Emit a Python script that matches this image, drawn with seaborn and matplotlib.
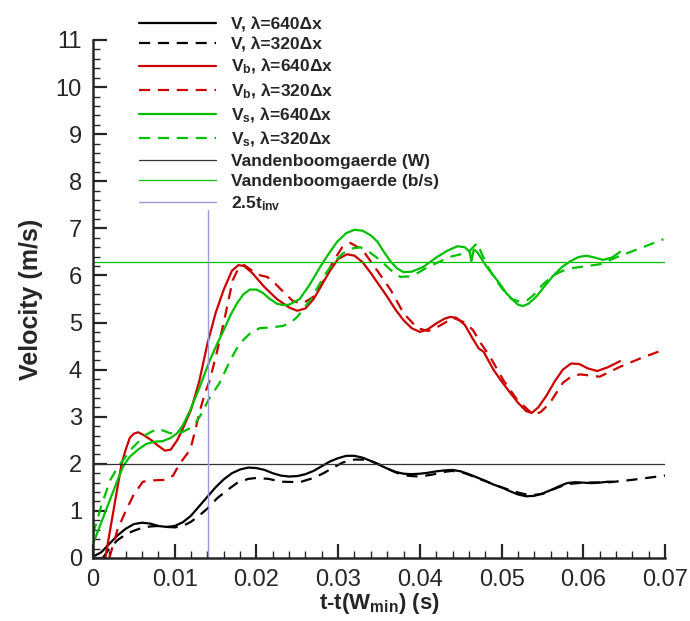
import numpy as np
import pandas as pd
import matplotlib
matplotlib.use("Agg")
import matplotlib.pyplot as plt
import seaborn as sns

# ---------------- data ----------------
t_v640 = [0, 0.001, 0.002, 0.003, 0.004, 0.005, 0.006, 0.007, 0.008, 0.009, 0.010, 0.011,
          0.012, 0.013, 0.014, 0.015, 0.016, 0.017, 0.018, 0.019, 0.020, 0.021, 0.022, 0.023,
          0.024, 0.025, 0.026, 0.027, 0.028, 0.029, 0.030, 0.031, 0.032, 0.033, 0.034, 0.035,
          0.036, 0.037, 0.038, 0.039, 0.040, 0.041, 0.042, 0.043, 0.044, 0.045, 0.046, 0.047,
          0.048, 0.049, 0.050, 0.051, 0.052, 0.053, 0.054, 0.055, 0.056, 0.057, 0.058, 0.059,
          0.060, 0.061, 0.062, 0.063, 0.0636]
v_v640 = [0.03, 0.12, 0.3, 0.48, 0.62, 0.72, 0.75, 0.73, 0.68, 0.66, 0.68, 0.76,
          0.9, 1.1, 1.3, 1.5, 1.67, 1.8, 1.88, 1.92, 1.91, 1.87, 1.8, 1.75,
          1.73, 1.74, 1.78, 1.85, 1.95, 2.05, 2.12, 2.17, 2.17, 2.13, 2.06, 1.98,
          1.9, 1.83, 1.79, 1.78, 1.79, 1.81, 1.84, 1.86, 1.87, 1.84, 1.78, 1.71,
          1.64, 1.56, 1.5, 1.42, 1.35, 1.31, 1.32, 1.37, 1.44, 1.52, 1.59, 1.61,
          1.6, 1.59, 1.6, 1.62, 1.62]

t_v320 = [0.0012, 0.002, 0.003, 0.004, 0.005, 0.006, 0.007, 0.008, 0.009, 0.010, 0.011, 0.012,
          0.013, 0.014, 0.0152, 0.0165, 0.0176, 0.019, 0.020, 0.0215, 0.023, 0.0253, 0.027,
          0.0282, 0.0295, 0.0306, 0.032, 0.033, 0.034, 0.035, 0.036, 0.037, 0.038, 0.039,
          0.040, 0.0415, 0.043, 0.044, 0.0455, 0.047, 0.0485, 0.050, 0.052, 0.0535, 0.055,
          0.0565, 0.058, 0.060, 0.0633, 0.066, 0.070]
v_v320 = [0.0, 0.2, 0.38, 0.5, 0.58, 0.64, 0.67, 0.68, 0.66, 0.65, 0.68, 0.77,
          0.9, 1.05, 1.27, 1.45, 1.59, 1.68, 1.7, 1.68, 1.62, 1.61, 1.7,
          1.8, 1.93, 2.03, 2.09, 2.09, 2.06, 1.99, 1.9, 1.82, 1.76, 1.74,
          1.73, 1.77, 1.83, 1.85, 1.8, 1.7, 1.6, 1.5, 1.39, 1.33, 1.36,
          1.47, 1.57, 1.6, 1.61, 1.66, 1.75]

t_vb640 = [0.0015, 0.002, 0.0025, 0.003, 0.0035, 0.004, 0.0045, 0.005, 0.0055, 0.006, 0.007,
           0.008, 0.0088, 0.0095, 0.0103, 0.011, 0.012, 0.013, 0.014, 0.015, 0.016, 0.017,
           0.0178, 0.0185, 0.0195, 0.021, 0.0225, 0.024, 0.025, 0.026, 0.027, 0.028, 0.029,
           0.030, 0.0311, 0.032, 0.033, 0.034, 0.035, 0.036, 0.037, 0.038, 0.039, 0.040,
           0.041, 0.042, 0.043, 0.0437, 0.0445, 0.0455, 0.0465, 0.0472, 0.0478, 0.049, 0.050,
           0.051, 0.052, 0.053, 0.0537, 0.0545, 0.0555, 0.0565, 0.0575, 0.0585, 0.0595,
           0.0605, 0.0617, 0.063, 0.0645]
v_vb640 = [0.0, 0.5, 1.0, 1.5, 2.0, 2.3, 2.55, 2.64, 2.67, 2.63, 2.52,
           2.38, 2.28, 2.3, 2.5, 2.75, 3.15, 3.75, 4.55, 5.2, 5.7, 6.1,
           6.22, 6.2, 6.05, 5.75, 5.5, 5.32, 5.25, 5.3, 5.5, 5.8, 6.1,
           6.35, 6.45, 6.42, 6.28, 6.05, 5.8, 5.55, 5.28, 5.05, 4.88, 4.8,
           4.86, 4.98, 5.08, 5.12, 5.1, 4.95, 4.65, 4.45, 4.38, 4.0, 3.75,
           3.52, 3.3, 3.12, 3.08, 3.2, 3.45, 3.75, 4.0, 4.13, 4.12,
           4.03, 3.97, 4.05, 4.18]

t_vb320 = [0.002, 0.003, 0.004, 0.005, 0.0061, 0.0075, 0.009, 0.0098, 0.0106, 0.0119, 0.0125,
           0.0131, 0.0137, 0.0143, 0.0152, 0.016, 0.0171, 0.0178, 0.0185, 0.0195, 0.0205,
           0.0213, 0.022, 0.0233, 0.0245, 0.0257, 0.027, 0.0278, 0.0294, 0.0305, 0.0315,
           0.033, 0.0348, 0.0364, 0.038, 0.0397, 0.041, 0.0421, 0.0441, 0.0455, 0.0465,
           0.0475, 0.0486, 0.0502, 0.0519, 0.0539, 0.0548, 0.0559, 0.0575, 0.0585, 0.0596,
           0.062, 0.0645, 0.067, 0.0698]
v_vb320 = [0.0, 0.6, 1.0, 1.35, 1.62, 1.65, 1.66, 1.75, 2.0, 2.3, 2.7,
           3.14, 3.5, 3.78, 4.4, 5.0, 5.9, 6.15, 6.22, 6.1, 6.0,
           5.97, 5.88, 5.65, 5.45, 5.41, 5.55, 5.75, 6.3, 6.6, 6.69,
           6.54, 6.1, 5.7, 5.2, 4.88, 4.82, 4.9, 5.1, 5.0, 4.84,
           4.55, 4.27, 3.78, 3.36, 3.04, 3.1, 3.29, 3.72, 3.85, 3.9,
           3.85, 4.06, 4.24, 4.42]

t_vs640 = [0.0, 0.001, 0.002, 0.003, 0.0037, 0.0045, 0.0055, 0.0065, 0.0075, 0.0085, 0.0095,
           0.0103, 0.011, 0.0119, 0.0131, 0.0143, 0.0152, 0.016, 0.0168, 0.0176, 0.0184,
           0.0192, 0.020, 0.0208, 0.0215, 0.0225, 0.0233, 0.024, 0.0253, 0.0265, 0.0278,
           0.029, 0.0299, 0.031, 0.032, 0.033, 0.034, 0.0348, 0.0356, 0.0364, 0.0372, 0.038,
           0.039, 0.0404, 0.042, 0.0433, 0.0446, 0.0455, 0.0461, 0.0463, 0.0466, 0.047,
           0.0482, 0.049, 0.0498, 0.0506, 0.0514, 0.052, 0.0526, 0.0533, 0.0543, 0.0553,
           0.0563, 0.0574, 0.0584, 0.0594, 0.0604, 0.0614, 0.0624, 0.0635, 0.0645]
v_vs640 = [0.3, 0.75, 1.2, 1.65, 1.95, 2.15, 2.3, 2.42, 2.47, 2.48, 2.55,
           2.65, 2.82, 3.14, 3.65, 4.2, 4.55, 4.84, 5.15, 5.4, 5.6,
           5.7, 5.7, 5.63, 5.52, 5.4, 5.37, 5.38, 5.5, 5.8, 6.18,
           6.5, 6.72, 6.9, 6.97, 6.95, 6.85, 6.72, 6.5, 6.3, 6.15, 6.07,
           6.08, 6.18, 6.38, 6.52, 6.62, 6.6, 6.5, 6.3, 6.55, 6.5,
           6.18, 6.0, 5.82, 5.62, 5.48, 5.38, 5.35, 5.4, 5.56, 5.78,
           5.99, 6.18, 6.3, 6.39, 6.42, 6.38, 6.33, 6.38, 6.5]

t_vs320 = [0.0, 0.001, 0.0021, 0.003, 0.0037, 0.0045, 0.0054, 0.0065, 0.0078, 0.0087, 0.0094,
           0.0102, 0.011, 0.0118, 0.0127, 0.0134, 0.0141, 0.0155, 0.0168, 0.0176, 0.0184,
           0.0194, 0.0204, 0.022, 0.0233, 0.0242, 0.025, 0.0258, 0.0266, 0.0276, 0.0286,
           0.0296, 0.0306, 0.0316, 0.0327, 0.0338, 0.0351, 0.0364, 0.0376, 0.0387, 0.0397,
           0.041, 0.0425, 0.0438, 0.045, 0.046, 0.047, 0.0476, 0.0482, 0.049, 0.0502, 0.0512,
           0.0523, 0.0531, 0.0539, 0.055, 0.0563, 0.0575, 0.0588, 0.0605, 0.0621, 0.0641,
           0.067, 0.0698]
v_vs320 = [0.5, 1.1, 1.65, 1.92, 2.08, 2.28, 2.44, 2.62, 2.74, 2.7, 2.65,
           2.65, 2.68, 2.75, 2.9, 3.1, 3.35, 3.72, 4.2, 4.45, 4.63,
           4.8, 4.88, 4.9, 4.93, 5.0, 5.12, 5.3, 5.48, 5.78, 6.07,
           6.3, 6.47, 6.57, 6.6, 6.5, 6.33, 6.12, 5.97, 5.98, 6.05,
           6.18, 6.3, 6.4, 6.45, 6.5, 6.69, 6.45, 6.22, 5.98, 5.69, 5.5,
           5.44, 5.47, 5.58, 5.8, 6.0, 6.1, 6.16, 6.2, 6.24, 6.39,
           6.58, 6.77]

t_ref = [0.0, 0.07]
v_ref_w = [2.0, 2.0]
v_ref_bs = [6.28, 6.28]

t_inv = [0.0141, 0.0141]
v_inv = [0.0, 7.38]

labels = [r"V, λ=640Δx", r"V, λ=320Δx",
          r"$\mathbf{V_b}$, λ=640Δx", r"$\mathbf{V_b}$, λ=320Δx",
          r"$\mathbf{V_s}$, λ=640Δx", r"$\mathbf{V_s}$, λ=320Δx",
          "Vandenboomgaerde (W)", "Vandenboomgaerde (b/s)", r"2.5t$_\mathbf{inv}$"]
x_ticklabels = ["0", "0.01", "0.02", "0.03", "0.04", "0.05", "0.06", "0.07"]

# ---------------- style ----------------
sns.set_style("ticks")
plt.rcParams["font.family"] = ["Liberation Sans", "DejaVu Sans"]
plt.rcParams["mathtext.fontset"] = "custom"
plt.rcParams["mathtext.rm"] = "Liberation Sans"
plt.rcParams["mathtext.bf"] = "Liberation Sans:bold"
plt.rcParams["mathtext.it"] = "Liberation Sans:italic"

fig = plt.figure(figsize=(6.9, 6.21), dpi=100)
ax = fig.add_axes([93 / 690, 1 - 558 / 621, (665 - 93) / 690, (558 - 40) / 621])

BLACK = "#000000"
RED = "#cc0000"
GREEN = "#00c000"
LAV = "#9a9ad8"
dash = (5, 3.5)

series = [
    (t_v640, v_v640, BLACK, None, 1.6, labels[0]),
    (t_v320, v_v320, BLACK, dash, 1.6, labels[1]),
    (t_vb640, v_vb640, RED, None, 1.6, labels[2]),
    (t_vb320, v_vb320, RED, dash, 1.6, labels[3]),
    (t_vs640, v_vs640, GREEN, None, 1.6, labels[4]),
    (t_vs320, v_vs320, GREEN, dash, 1.6, labels[5]),
    (t_ref, v_ref_w, "#333333", None, 0.9, labels[6]),
    (t_ref, v_ref_bs, GREEN, None, 0.9, labels[7]),
]
handles = []
for t, v, c, d, lw, lab in series:
    df = pd.DataFrame({"t": t, "v": v})
    sns.lineplot(data=df, x="t", y="v", ax=ax, color=c, linewidth=lw, sort=False,
                 estimator=None, label=lab)
    ln = ax.get_lines()[-1]
    ln.set_solid_joinstyle("round")
    if d is not None:
        ln.set_dashes(d)
    handles.append(ln)

df_inv = pd.DataFrame({"t": t_inv, "v": v_inv})
sns.lineplot(data=df_inv, x="t", y="v", ax=ax, color=LAV, linewidth=1.0, sort=False,
             estimator=None, label=labels[8])
handles.append(ax.get_lines()[-1])
ax.get_legend().remove()

ax.set_xlim(0, 0.07)
ax.set_ylim(0, 11)
ax.set_xticks(np.arange(0, 0.0701, 0.01))
ax.set_xticklabels(x_ticklabels)
ax.set_yticks(range(0, 12))
ax.set_xticks(np.arange(0, 0.0701, 0.002), minor=True)
ax.set_yticks(np.arange(0, 11.01, 0.2), minor=True)
ax.tick_params(which="major", direction="in", length=10, width=1.6, labelsize=17, pad=8)
ax.tick_params(which="minor", direction="in", length=5, width=1.0)
for s in ["top", "right"]:
    ax.spines[s].set_visible(False)
for s in ["left", "bottom"]:
    ax.spines[s].set_linewidth(1.8)

ax.set_xlabel(r"t-t(W$_\mathbf{min}$) (s)", fontsize=16, fontweight="bold", labelpad=0)
ax.set_ylabel("Velocity (m/s)", fontsize=18, fontweight="bold", labelpad=9)

leg = fig.legend(handles=handles, labels=labels, loc="upper left",
                 bbox_to_anchor=(132 / 690, 1 - 10 / 621), frameon=False,
                 prop={"weight": "bold", "size": 12.5}, handlelength=4.45,
                 handletextpad=0.85, labelspacing=0.28, borderaxespad=0)

fig.savefig("out.png", dpi=100)
